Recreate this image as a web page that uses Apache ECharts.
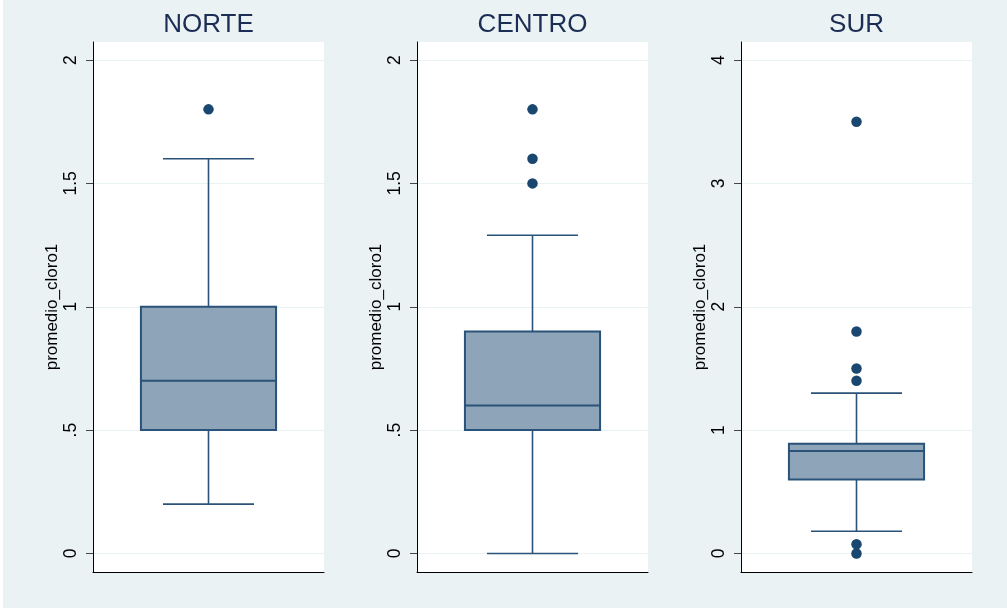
<!DOCTYPE html>
<html>
<head>
<meta charset="utf-8">
<script src="https://cdn.jsdelivr.net/npm/echarts@6/dist/echarts.min.js"></script>
<style>
  html, body { margin: 0; padding: 0; background: #ffffff; }
  #chart { width: 1007px; height: 608px; }
</style>
</head>
<body>
<div id="chart"></div>
<script>
// Panel titles
const regions = ['NORTE', 'CENTRO', 'SUR'];

// Five-number summaries: lower whisker, Q1, median, Q3, upper whisker
const boxNorte  = [0.20, 0.50, 0.70, 1.00, 1.60];
const boxCentro = [0.00, 0.50, 0.60, 0.90, 1.29];
const boxSur    = [0.18, 0.60, 0.83, 0.89, 1.30];

// Points outside the whiskers
const outNorte  = [1.8];
const outCentro = [1.5, 1.6, 1.8];
const outSur    = [0.0, 0.075, 1.4, 1.5, 1.8, 3.5];

// Y-axis ticks and their labels
const ticksNorte  = [0, 0.5, 1, 1.5, 2];
const labelsNorte = ['0', '.5', '1', '1.5', '2'];
const ticksCentro  = [0, 0.5, 1, 1.5, 2];
const labelsCentro = ['0', '.5', '1', '1.5', '2'];
const ticksSur  = [0, 1, 2, 3, 4];
const labelsSur = ['0', '1', '2', '3', '4'];

const yTitle = 'promedio_cloro1';

// ---- styling / layout ----
const BG = '#EAF2F3';
const NAVY = '#1A476F';
const BOX_FILL = '#8EA4B8';
const BOX_LINE = '#2B5278';
const BOX_HALF = 0.2925;  // half box width, in x-axis units (0..1)
const CAP_HALF = 0.197;   // half whisker-cap width
const FONT = '"Liberation Sans", Arial, Helvetica, sans-serif';

const panels = [
  { box: boxNorte,  out: outNorte,  ticks: ticksNorte,  labels: labelsNorte,  min: -0.075, max: 2.073, left: 93 },
  { box: boxCentro, out: outCentro, ticks: ticksCentro, labels: labelsCentro, min: -0.075, max: 2.073, left: 417 },
  { box: boxSur,    out: outSur,    ticks: ticksSur,    labels: labelsSur,    min: -0.15,  max: 4.146, left: 741 }
];
const PLOT_W = 231, PLOT_TOP = 42, PLOT_H = 530;

function renderBox(params, api) {
  const x = api.value(0);
  const lo = api.value(1), q1 = api.value(2), med = api.value(3), q3 = api.value(4), hi = api.value(5);
  const tl = api.coord([x - BOX_HALF, q3]);
  const br = api.coord([x + BOX_HALF, q1]);
  const mL = api.coord([x - BOX_HALF, med]);
  const mR = api.coord([x + BOX_HALF, med]);
  const top = api.coord([x, hi]);
  const bot = api.coord([x, lo]);
  const cTL = api.coord([x - CAP_HALF, hi]);
  const cTR = api.coord([x + CAP_HALF, hi]);
  const cBL = api.coord([x - CAP_HALF, lo]);
  const cBR = api.coord([x + CAP_HALF, lo]);
  const wStyle = { stroke: BOX_LINE, lineWidth: 1.6 };
  return {
    type: 'group',
    children: [
      { type: 'line', shape: { x1: top[0], y1: top[1], x2: top[0], y2: tl[1] }, style: wStyle },
      { type: 'line', shape: { x1: bot[0], y1: br[1], x2: bot[0], y2: bot[1] }, style: wStyle },
      { type: 'line', shape: { x1: cTL[0], y1: cTL[1], x2: cTR[0], y2: cTR[1] }, style: wStyle },
      { type: 'line', shape: { x1: cBL[0], y1: cBL[1], x2: cBR[0], y2: cBR[1] }, style: wStyle },
      { type: 'rect', shape: { x: tl[0], y: tl[1], width: br[0] - tl[0], height: br[1] - tl[1] },
        style: { fill: BOX_FILL, stroke: BOX_LINE, lineWidth: 2 } },
      { type: 'line', shape: { x1: mL[0], y1: mL[1], x2: mR[0], y2: mR[1] },
        style: { stroke: BOX_LINE, lineWidth: 2 } }
    ]
  };
}

const grid = [], xAxis = [], yAxis = [], series = [], graphic = [];

panels.forEach((p, i) => {
  grid.push({
    left: p.left, top: PLOT_TOP, width: PLOT_W, height: PLOT_H,
    show: true, backgroundColor: '#ffffff', borderWidth: 0
  });
  xAxis.push({
    type: 'value', gridIndex: i, min: 0, max: 1,
    axisLine: { show: true, onZero: false, lineStyle: { color: '#000', width: 1 } },
    axisTick: { show: false }, axisLabel: { show: false }, splitLine: { show: false }
  });
  yAxis.push({
    type: 'value', gridIndex: i, min: p.min, max: p.max,
    name: yTitle, nameLocation: 'middle', nameRotate: 90, nameGap: 28,
    nameTextStyle: { fontFamily: FONT, fontSize: 17, color: '#000' },
    axisLine: { show: true, lineStyle: { color: '#000', width: 1 } },
    axisTick: { show: true, customValues: p.ticks, length: 7, lineStyle: { color: '#444' } },
    axisLabel: {
      show: true, customValues: p.ticks, rotate: 90, margin: 13,
      fontFamily: FONT, fontSize: 17.5, color: '#000',
      formatter: v => { const k = p.ticks.indexOf(v); return k >= 0 ? p.labels[k] : ''; }
    },
    splitLine: { show: true, lineStyle: { color: BG, width: 1 } }
  });
  series.push({
    type: 'custom', xAxisIndex: i, yAxisIndex: i,
    renderItem: renderBox,
    encode: { x: 0, y: [1, 2, 3, 4, 5] },
    data: [[0.5].concat(p.box)],
    z: 3
  });
  series.push({
    type: 'scatter', xAxisIndex: i, yAxisIndex: i,
    symbol: 'circle', symbolSize: 10.5,
    itemStyle: { color: NAVY, opacity: 1 },
    data: p.out.map(v => [0.5, v]),
    z: 4
  });
  graphic.push({
    type: 'text',
    x: p.left + PLOT_W / 2, y: 25,
    style: {
      text: regions[i], fill: '#1C2D55', font: '26px ' + FONT,
      textAlign: 'center', textVerticalAlign: 'middle'
    }
  });
});

// thin white margin on the left edge of the canvas
graphic.push({ type: 'rect', shape: { x: 0, y: 0, width: 3, height: 608 }, style: { fill: '#ffffff' } });

const chart = echarts.init(document.getElementById('chart'), null, { renderer: 'canvas' });
chart.setOption({
  backgroundColor: BG,
  animation: false,
  grid, xAxis, yAxis, series, graphic,
  tooltip: { show: false }
});
</script>
</body>
</html>
